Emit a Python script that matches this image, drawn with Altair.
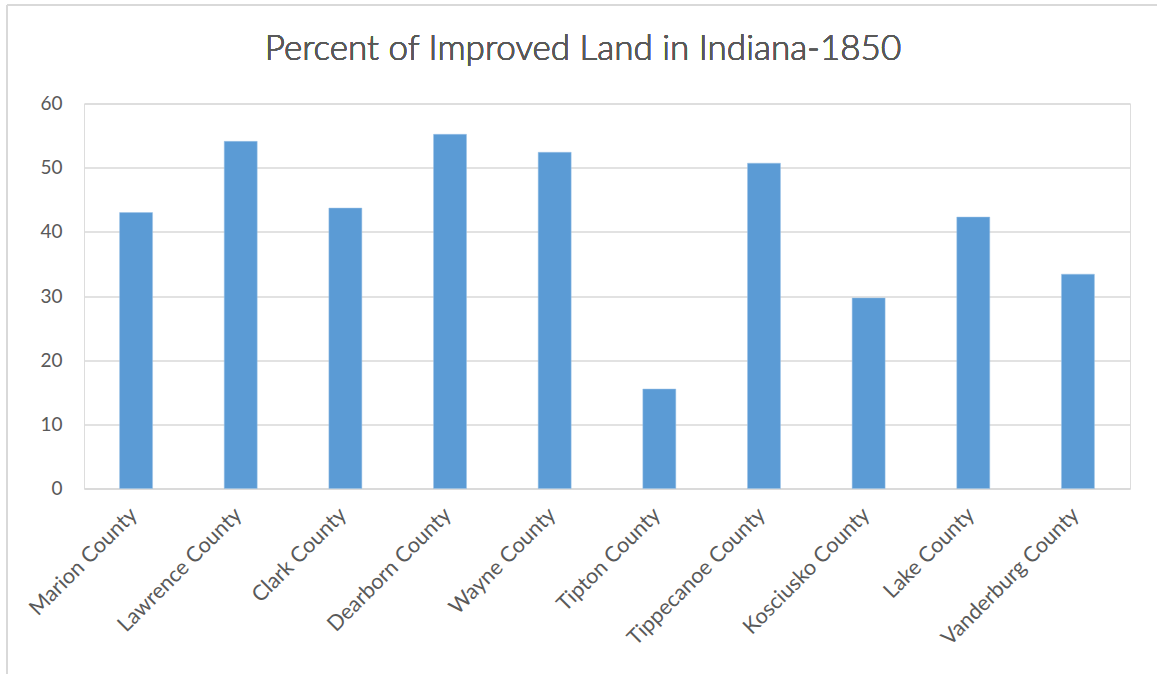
import altair as alt
import pandas as pd

counties = [
    "Marion County", "Lawrence County", "Clark County", "Dearborn County",
    "Wayne County", "Tipton County", "Tippecanoe County", "Kosciusko County",
    "Lake County", "Vanderburg County",
]
percent_improved = [43.0, 54.1, 43.7, 55.2, 52.4, 15.5, 50.7, 29.7, 42.3, 33.4]
chart_title = "Percent of Improved Land in Indiana-1850"

df = pd.DataFrame({"county": counties, "percent": percent_improved})

TEXT = "#595959"
GRID = "#D9D9D9"
BAR = "#5B9BD5"
FONT = "Lato"

bars = alt.Chart(df).mark_bar(color=BAR, stroke="#9DC3E6", strokeWidth=0.5).encode(
    x=alt.X(
        "county:N",
        sort=counties,
        title=None,
        scale=alt.Scale(paddingInner=0.685, paddingOuter=0.34),
        axis=alt.Axis(
            labelAngle=-45,
            labelAlign="right",
            labelBaseline="middle",
            labelPadding=23,
            labelOffset=-2,
            labelFontSize=21.5,
            labelLimit=400,
            labelColor=TEXT,
            labelFont=FONT,
            ticks=False,
            domainColor=GRID,
            domainWidth=1.5,
            grid=False,
        ),
    ),
    y=alt.Y(
        "percent:Q",
        title=None,
        scale=alt.Scale(domain=[0, 60], nice=False),
        axis=alt.Axis(
            values=[0, 10, 20, 30, 40, 50, 60],
            labelFontSize=19,
            labelColor=TEXT,
            labelFont=FONT,
            labelPadding=22,
            ticks=False,
            domain=False,
            gridColor=GRID,
            gridWidth=1.5,
        ),
    ),
)

# chart title, centred over the whole chart area
title = alt.Chart(df).mark_text(
    text=chart_title, font=FONT, fontSize=35, fontWeight=300, color=TEXT,
    align="center", baseline="middle",
).encode(x=alt.value(499), y=alt.value(-55))

# light chart-area border along the left and top edges
frame_left = alt.Chart(df).mark_rule(color=GRID, strokeWidth=2).encode(
    x=alt.value(-77), y=alt.value(-98.5), y2=alt.value(700)
)
frame_top = alt.Chart(df).mark_rule(color=GRID, strokeWidth=2).encode(
    x=alt.value(-77), x2=alt.value(1200), y=alt.value(-98.5)
)

chart = (
    alt.layer(bars, title, frame_left, frame_top)
    .properties(
        width=1046,
        height=385,
        autosize=alt.AutoSizeParams(type="none"),
        padding={"left": 84, "top": 103.5, "right": 27, "bottom": 185.5},
    )
    .configure_view(stroke=None)
    .configure(background="white")
)

chart.save("out.html", embed_options={"renderer": "svg", "actions": False})
